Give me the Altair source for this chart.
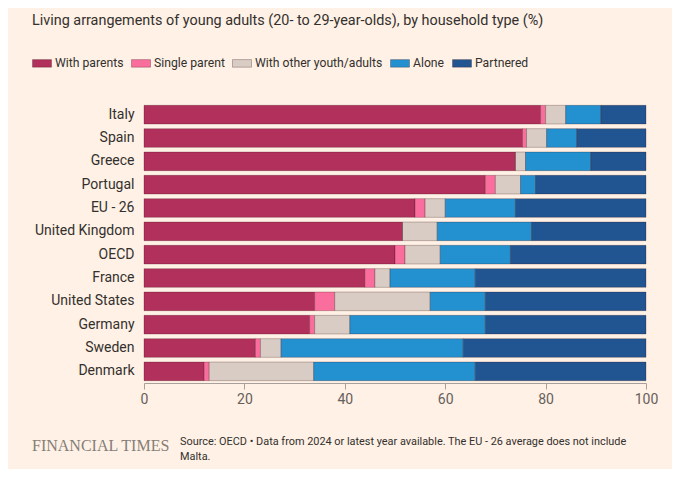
import altair as alt
import pandas as pd

countries = ["Italy", "Spain", "Greece", "Portugal", "EU - 26", "United Kingdom", "OECD",
             "France", "United States", "Germany", "Sweden", "Denmark"]
categories = ["With parents", "Single parent", "With other youth/adults", "Alone", "Partnered"]
colors = ["#B2305C", "#FA6E9D", "#D8CCC4", "#2390D0", "#215591"]

with_parents = [79, 75.4, 74, 68, 54, 51.5, 50, 44, 34, 33, 22.2, 12]
single_parent = [1, 0.8, 0, 2, 2, 0, 2, 2, 4, 1, 1, 1]
other_youth = [4, 4, 2, 5, 4, 6.9, 7, 3, 19, 7, 4.1, 20.8]
alone = [7, 6, 13, 3, 14, 18.8, 14, 17, 11, 27, 36.3, 32.2]
partnered = [9, 13.8, 11, 22, 26, 22.8, 27, 34, 32, 32, 36.4, 34]

series = [with_parents, single_parent, other_youth, alone, partnered]
rows = []
for ci, (cat, vals) in enumerate(zip(categories, series)):
    for country, v in zip(countries, vals):
        rows.append({"country": country, "category": cat, "order": ci, "value": v})
df = pd.DataFrame(rows)

title_text = "Living arrangements of young adults (20- to 29-year-olds), by household type (%)"
source_lines = ["Source: OECD \u2022 Data from 2024 or latest year available. The EU - 26 average does not include",
                "Malta."]

FONT = "Roboto"

bars = alt.Chart(df).mark_bar(stroke="rgba(40,0,10,0.35)", strokeWidth=0.7).encode(
    x=alt.X("value:Q", stack="zero", scale=alt.Scale(domain=[0, 100], nice=False),
            axis=alt.Axis(values=[0, 20, 40, 60, 80, 100], title=None, grid=False,
                          domainColor="#A8A09A", tickColor="#A8A09A", tickSize=6,
                          labelFlush=False,
                          labelColor="#66605C", labelFontSize=14, labelFont=FONT, labelPadding=3)),
    y=alt.Y("country:N", sort=countries,
            scale=alt.Scale(paddingInner=0.2, paddingOuter=0.1),
            axis=alt.Axis(title=None, ticks=False, domain=False, labelPadding=10,
                          labelColor="#33302E", labelFontSize=14, labelFont=FONT)),
    color=alt.Color("category:N", scale=alt.Scale(domain=categories, range=colors),
                    legend=alt.Legend(title=None, orient="none", legendX=-112, legendY=-50,
                                      direction="horizontal",
                                      symbolType="M-1,-0.4H1V0.4H-1Z", symbolSize=361,
                                      symbolStrokeColor="rgba(40,0,10,0.35)", symbolStrokeWidth=0.8,
                                      labelFontSize=12.2, labelFont=FONT, labelColor="#33302E",
                                      labelOffset=3, columnPadding=5)),
    order=alt.Order("order:Q"),
)

one = pd.DataFrame({"k": [0]})

title = alt.Chart(one).mark_text(align="left", baseline="alphabetic", fontSize=14.4, font=FONT,
                                 color="#33302E").encode(
    x=alt.value(-112), y=alt.value(-78), text=alt.value(title_text))

ft = alt.Chart(one).mark_text(align="left", baseline="alphabetic", fontSize=16,
                              font="Liberation Serif", color="#857E78").encode(
    x=alt.value(-112), y=alt.value(348), text=alt.value("FINANCIAL TIMES"))

source = alt.Chart(one).mark_text(align="left", baseline="alphabetic", fontSize=10.9, font=FONT,
                                  color="#33302E", lineHeight=15).encode(
    x=alt.value(36), y=alt.value(342), text=alt.value(source_lines))

chart = alt.layer(bars, title, ft, source).properties(
    width=502, height=280,
    autosize=alt.AutoSizeParams(type="none"),
    padding={"left": 136, "top": 95, "right": 26, "bottom": 86},
    background="#FFF1E5",
).configure_view(stroke=None)

chart.save("out.html", embed_options={"renderer": "svg", "actions": False})
